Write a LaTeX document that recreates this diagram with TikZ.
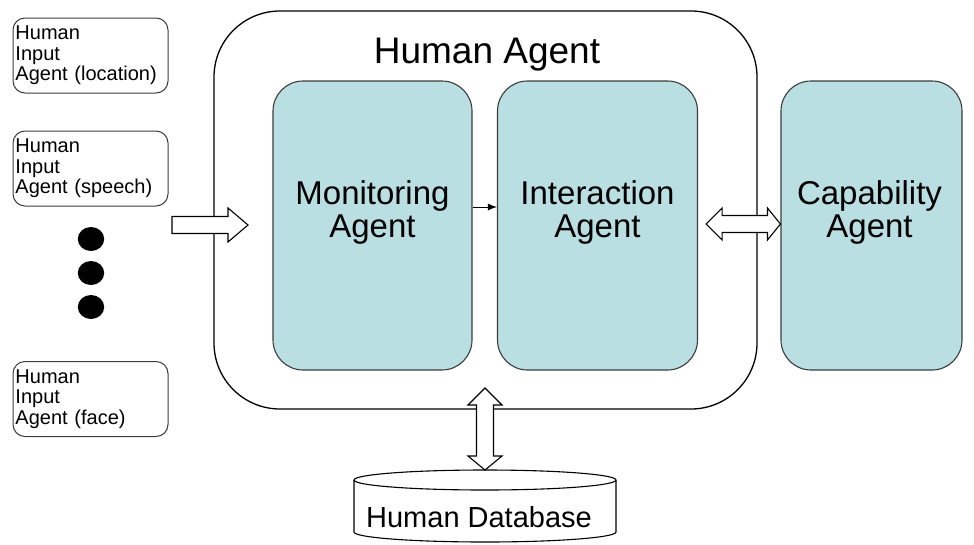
\documentclass[tikz,border=0pt]{standalone}
\usepackage{fontspec}
\setmainfont{Liberation Sans}
\usetikzlibrary{calc,arrows.meta}
\definecolor{agentfill}{HTML}{B9DFE2}
\definecolor{edgegray}{HTML}{3C3C3C}

\begin{document}
\begin{tikzpicture}[x=1pt,y=-1pt,
  inputbox/.style={draw=edgegray, line width=1pt, rounded corners=12pt,
    minimum width=155pt, minimum height=75pt, text width=150pt, align=left,
    inner xsep=2.5pt, inner ysep=0pt, font=\fontsize{20}{20.5}\selectfont},
  agentbox/.style={draw=edgegray, line width=1.1pt, fill=agentfill,
    rounded corners=30pt, minimum height=289pt, inner sep=0pt},
  agentlabel/.style={align=center, inner sep=0pt, font=\fontsize{33}{33}\selectfont},
  outerbox/.style={draw=black, line width=1.3pt, rounded corners=66pt,
    minimum width=543pt, minimum height=398pt, inner sep=0pt},
  blockarrow/.style={draw=black, line width=1.1pt, fill=white, line join=miter},
  dotmark/.style={circle, fill=black, minimum size=24pt, inner sep=0pt},
  flowarrow/.style={draw=black, line width=1pt, -{Latex[length=9pt,width=7pt]}}]

\useasboundingbox (0,0) rectangle (974,544);

% outer human agent container
\node[outerbox] (human) at (485.5,210) {};
\node[font=\fontsize{37}{40}\selectfont] (humantitle) at (487,55) {Human Agent};

% agents inside and beside the container
\node[agentbox, minimum width=199pt] (mon) at (372.5,225.5) {};
\node[agentbox, minimum width=200pt] (inter) at (597.5,225.5) {};
\node[agentbox, minimum width=181pt] (cap) at (871.5,225.5) {};
\node[agentlabel] (monlabel) at ($(mon)+(0,-13)$) {Monitoring\\Agent};
\node[agentlabel] (interlabel) at ($(inter)+(0,-13)$) {Interaction\\Agent};
\node[agentlabel] (caplabel) at ($(cap)+(-2,-13)$) {Capability\\Agent};

% human input agents on the left
\node[inputbox] (in1) at (90.5,55.5) {Human\\Input\\Agent (location)};
\node[inputbox] (in2) at (90.5,168.5) {Human\\Input\\Agent (speech)};
\node[inputbox] (in3) at (90.5,399) {Human\\Input\\Agent (face)};

% ellipsis dots
\node[dotmark, xscale=1.1] (d1) at (91,239) {};
\node[dotmark, xscale=1.1] (d2) at (91,273) {};
\node[dotmark, xscale=1.1] (d3) at (91,307) {};

% human database cylinder
\coordinate (dbtop) at (485,470);
\draw[draw=black, line width=1.1pt, fill=white]
  (354,480) -- (354,532) arc[start angle=180, end angle=0, x radius=131, y radius=10]
  -- (616,480);
\draw[draw=black, line width=1.1pt] (485,480) ellipse[x radius=131, y radius=10];
\node[font=\fontsize{29}{32}\selectfont] (db) at (479,517) {Human Database};

% monitoring -> interaction
\draw[flowarrow] (mon.east |- 0,207) -- (inter.west |- 0,207);

% hollow input arrow into the container
\coordinate (inA) at (172,225);
\coordinate (inB) at (248,225);
\draw[blockarrow]
  ($(inA)+(0,-8.5)$) -- ($(inB)+(-20,-8.5)$) -- ($(inB)+(-20,-17)$) -- (inB)
  -- ($(inB)+(-20,17)$) -- ($(inB)+(-20,8.5)$) -- ($(inA)+(0,8.5)$) -- cycle;

% hollow two-way arrow between interaction and capability
\coordinate (hA) at ($(inter.east |- 0,224)+(8,0)$);
\coordinate (hB) at (cap.west |- 0,224);
\draw[blockarrow]
  (hA) -- ($(hA)+(16,-16)$) -- ($(hA)+(16,-8.5)$) -- ($(hB)+(-13,-8.5)$)
  -- ($(hB)+(-13,-16)$) -- (hB) -- ($(hB)+(-13,16)$) -- ($(hB)+(-13,8.5)$)
  -- ($(hA)+(16,8.5)$) -- ($(hA)+(16,16)$) -- cycle;

% hollow two-way arrow between the container and the database
\coordinate (vA) at (485,388);
\draw[blockarrow]
  (vA) -- ($(vA)+(17,17)$) -- ($(vA)+(8.5,17)$) -- ($(dbtop)+(8.5,-14)$)
  -- ($(dbtop)+(17,-14)$) -- (dbtop) -- ($(dbtop)+(-17,-14)$) -- ($(dbtop)+(-8.5,-14)$)
  -- ($(vA)+(-8.5,17)$) -- ($(vA)+(-17,17)$) -- cycle;
\end{tikzpicture}
\end{document}
